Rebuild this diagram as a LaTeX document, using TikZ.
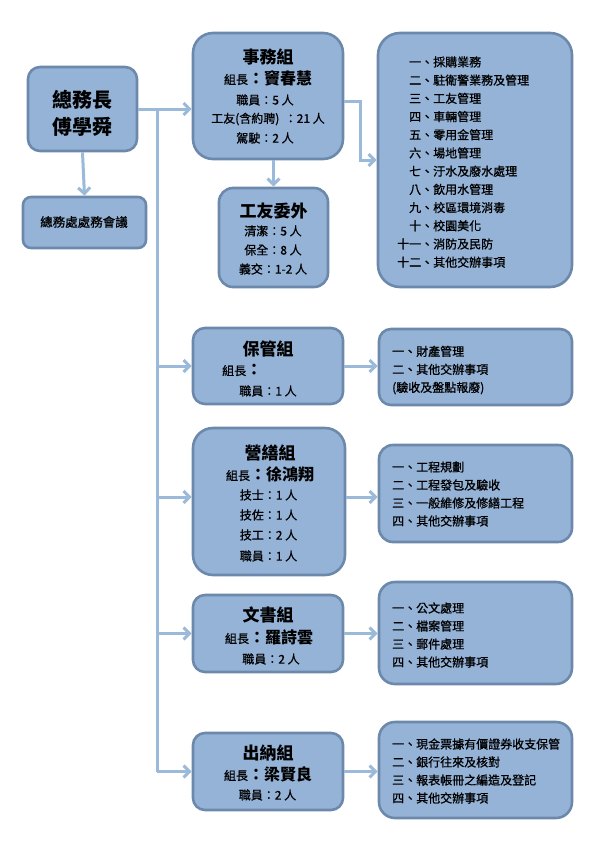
\documentclass[tikz,border=0pt]{standalone}
\usepackage{fontspec}
\setmainfont{Noto Sans CJK TC}
\newfontfamily\medfont{Noto Sans CJK TC}[FakeBold=0.8]
\usetikzlibrary{arrows.meta}
\definecolor{boxfill}{HTML}{95B3D7}
\definecolor{boxline}{HTML}{6C89AB}
\definecolor{linkblue}{HTML}{9BB9D8}
\newcommand\grpchief[1]{{\fontsize{12}{12}\selectfont\medfont 組長}{\fontsize{16}{16}\selectfont\bfseries ：#1}}
\begin{document}
\begin{tikzpicture}[x=1pt,y=-1pt,
  box/.style={draw=boxline, fill=boxfill, line width=2.6pt, rounded corners=#1, inner sep=0pt},
  ttl/.style={inner sep=0pt, font=\fontsize{17}{17}\selectfont\bfseries},
  sm/.style={inner sep=0pt, font=\fontsize{12}{12}\selectfont\medfont},
  lst/.style={inner sep=0pt, anchor=west, align=left, font=\fontsize{12}{18}\selectfont\medfont},
  link/.style={draw=linkblue, line width=3pt},
  arr/.style={link, -{Straight Barb[length=6pt,width=12pt]}}]
\useasboundingbox[fill=white] (0,0) rectangle (599,847);

% boxes
\node[box=12pt, minimum width=109pt, minimum height=84pt] (zwz) at (82.5,109) {};
\node[box=8pt, minimum width=123pt, minimum height=51pt] (hy) at (84.5,222.5) {};
\node[box=20pt, minimum width=150pt, minimum height=126pt] (swz) at (268,96) {};
\node[box=14pt, minimum width=109pt, minimum height=99pt] (gywb) at (273.5,237.5) {};
\node[box=22pt, minimum width=194pt, minimum height=254pt] (swlist) at (475,160) {};
\node[box=12pt, minimum width=150pt, minimum height=76pt] (bgz) at (268,366) {};
\node[box=12pt, minimum width=193pt, minimum height=76pt] (bglist) at (475.5,367) {};
\node[box=20pt, minimum width=152pt, minimum height=147pt] (ysz) at (269,501.5) {};
\node[box=14pt, minimum width=193pt, minimum height=97pt] (yslist) at (475.5,493.5) {};
\node[box=12pt, minimum width=150pt, minimum height=77pt] (wsz) at (268,633.5) {};
\node[box=16pt, minimum width=193pt, minimum height=102pt] (wslist) at (475.5,633) {};
\node[box=12pt, minimum width=150pt, minimum height=77pt] (cnz) at (268,771.5) {};
\node[box=16pt, minimum width=193pt, minimum height=96pt] (cnlist) at (475.5,770) {};

% texts
\node[inner sep=0pt, font=\fontsize{20}{20}\selectfont\bfseries] (zwz-1) at (82.5,100) {總務長};
\node[inner sep=0pt, font=\fontsize{20}{20}\selectfont\bfseries] (zwz-2) at (82.5,127) {傅學舜};
\node[sm, font=\fontsize{12.5}{12.5}\selectfont\medfont] (hy-1) at (84,222) {總務處處務會議};

\node[ttl] (swz-1) at (268,57) {事務組};
\node[inner sep=0pt] (swz-2) at (268,78) {\grpchief{竇春慧}};
\node[sm] (swz-3) at (265,100) {職員：5 人};
\node[sm] (swz-4) at (268,119) {工友(含約聘)\ \ ：21 人};
\node[sm] (swz-5) at (265,138) {駕駛：2 人};

\node[ttl] (gywb-1) at (273.5,211) {工友委外};
\node[sm] (gywb-2) at (273,231) {清潔：5 人};
\node[sm] (gywb-3) at (273,250) {保全：8 人};
\node[sm] (gywb-4) at (273,269) {義交：1-2 人};

\node[inner sep=0pt, anchor=west, font=\fontsize{12}{18.2}\selectfont\medfont] (swlist-1) at (397,163) {%
  \begin{tabular}{@{}r@{}l@{}}
  一、&採購業務\\ 二、&駐衛警業務及管理\\ 三、&工友管理\\ 四、&車輛管理\\
  五、&零用金管理\\ 六、&場地管理\\ 七、&汙水及廢水處理\\ 八、&飲用水管理\\
  九、&校區環境消毒\\ 十、&校園美化\\ 十一、&消防及民防\\ 十二、&其他交辦事項
  \end{tabular}};

\node[ttl] (bgz-1) at (268,349) {保管組};
\node[inner sep=0pt, anchor=west] (bgz-2) at (222,370) {{\fontsize{12}{12}\selectfont\medfont 組長}{\fontsize{16}{16}\selectfont\bfseries ：}};
\node[sm] (bgz-3) at (268,391) {職員：1 人};
\node[lst] (bglist-1) at (392,370) {一、財產管理\\二、其他交辦事項\\(驗收及盤點報廢)};

\node[ttl] (ysz-1) at (270,453) {營繕組};
\node[inner sep=0pt] (ysz-2) at (270,474) {\grpchief{徐鴻翔}};
\node[sm] (ysz-3) at (268.5,495) {技士：1 人};
\node[sm] (ysz-4) at (268.5,515) {技佐：1 人};
\node[sm] (ysz-5) at (268.5,535) {技工：2 人};
\node[sm] (ysz-6) at (268.5,556) {職員：1 人};
\node[lst] (yslist-1) at (392,494) {一、工程規劃\\二、工程發包及驗收\\三、一般維修及修繕工程\\四、其他交辦事項};

\node[ttl] (wsz-1) at (268,615) {文書組};
\node[inner sep=0pt] (wsz-2) at (269,637) {\grpchief{羅詩雲}};
\node[sm] (wsz-3) at (271,659) {職員：2 人};
\node[lst] (wslist-1) at (392,635) {一、公文處理\\二、檔案管理\\三、郵件處理\\四、其他交辦事項};

\node[ttl] (cnz-1) at (268,753) {出納組};
\node[inner sep=0pt] (cnz-2) at (268,774) {\grpchief{梁賢良}};
\node[sm] (cnz-3) at (267.5,795) {職員：2 人};
\node[lst] (cnlist-1) at (392,771) {一、現金票據有價證券收支保管\\二、銀行往來及核對\\三、報表帳冊之編造及登記\\四、其他交辦事項};

% connectors
\coordinate (trunk) at (157,109);
\path[arr] (zwz.south) -- (hy.north);
\path[arr] (zwz.east) -- (zwz.east -| swz.west);
\path[link] (trunk) -- (trunk |- cnz.west);
\path[arr] (trunk |- bgz.west) -- (bgz.west);
\path[arr] (trunk |- 0,497) -- (ysz.west |- 0,497);
\path[arr] (trunk |- wsz.west) -- (wsz.west);
\path[arr] (trunk |- cnz.west) -- (cnz.west);
\path[arr] (gywb.north |- swz.south) -- (gywb.north);
\path[arr] ([yshift=-5pt]swz.east) -- ++(16,0) |- (swlist.west);
\path[arr] (bgz.east) -- (bgz.east -| bglist.west);
\path[arr] (ysz.east |- 0,497) -- (yslist.west |- 0,497);
\path[arr] (wsz.east) -- (wsz.east -| wslist.west);
\path[arr] (cnz.east) -- (cnz.east -| cnlist.west);
\end{tikzpicture}
\end{document}
